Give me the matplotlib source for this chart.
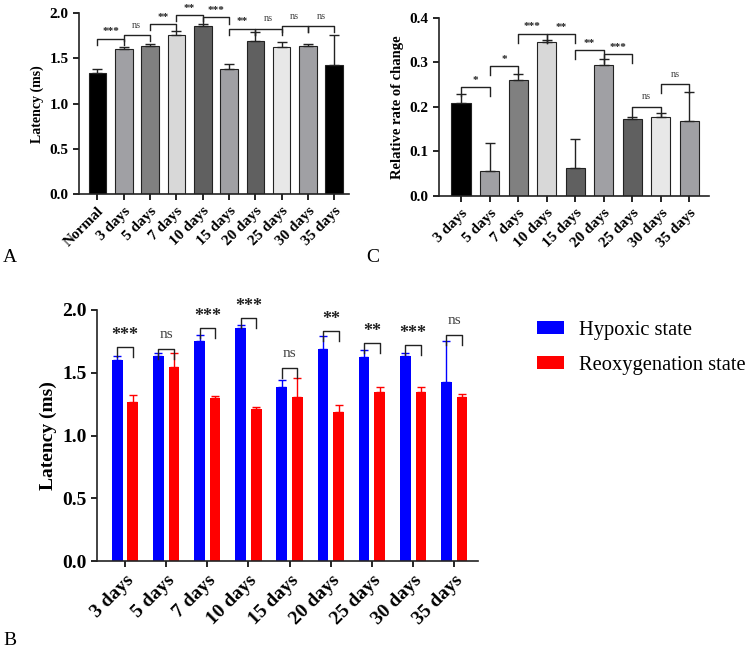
import matplotlib
matplotlib.use("Agg")
import matplotlib.pyplot as plt
from matplotlib.patches import Patch
import numpy as np

plt.rcParams['font.family'] = ['Liberation Serif', 'DejaVu Serif']

# ---- panel A: latency over time ----
cats_a = ['Normal', '3 days', '5 days', '7 days', '10 days', '15 days',
          '20 days', '25 days', '30 days', '35 days']
lat_mean = [1.34, 1.60, 1.635, 1.755, 1.855, 1.385, 1.69, 1.625, 1.635, 1.425]
lat_err = [0.04, 0.03, 0.02, 0.045, 0.025, 0.055, 0.10, 0.055, 0.02, 0.33]
colors_a = ['#000000', '#a0a0a4', '#808080', '#d8d8d8', '#606060',
            '#a0a0a4', '#606060', '#e8e8e8', '#a0a0a4', '#000000']
sig_a = [(0, 1, 1.72, '***'), (1, 2, 1.76, 'ns'), (2, 3, 1.88, '**'),
         (3, 4, 1.98, '**'), (4, 5, 1.955, '***'), (5, 6, 1.83, '**'),
         (6, 7, 1.83, 'ns'), (7, 8, 1.86, 'ns'), (8, 9, 1.86, 'ns')]

# ---- panel C: relative rate of change ----
cats_c = cats_a[1:]
rate_mean = [0.209, 0.055, 0.26, 0.346, 0.062, 0.293, 0.172, 0.176, 0.168]
rate_err = [0.019, 0.063, 0.013, 0.003, 0.066, 0.013, 0.006, 0.011, 0.066]
colors_c = ['#000000', '#a0a0a4', '#808080', '#d8d8d8', '#606060',
            '#a0a0a4', '#606060', '#e8e8e8', '#a0a0a4']
sig_c = [(0, 1, 0.245, '*'), (1, 2, 0.292, '*'), (2, 3, 0.364, '***'),
         (3, 4, 0.363, '**'), (4, 5, 0.327, '**'), (5, 6, 0.318, '***'),
         (6, 7, 0.20, 'ns'), (7, 8, 0.25, 'ns')]

# ---- panel B: hypoxic vs reoxygenation ----
cats_b = cats_a[1:]
hyp_mean = lat_mean[1:]
hyp_err = lat_err[1:]
reox_mean = [1.264, 1.543, 1.296, 1.211, 1.307, 1.19, 1.344, 1.344, 1.307]
reox_err = [0.056, 0.112, 0.019, 0.016, 0.148, 0.053, 0.042, 0.042, 0.026]
sig_b_y = [1.705, 1.69, 1.857, 1.934, 1.538, 1.833, 1.734, 1.718, 1.80]
sig_b = ['***', 'ns', '***', '***', 'ns', '**', '**', '***', 'ns']


def style_axes(ax, fs):
    for s in ['top', 'right']:
        ax.spines[s].set_visible(False)
    for s in ['left', 'bottom']:
        ax.spines[s].set_linewidth(1.2)
        ax.spines[s].set_color('#222222')
    ax.tick_params(axis='both', width=1.2, length=4, labelsize=fs)
    for lab in ax.get_yticklabels() + ax.get_xticklabels():
        lab.set_fontweight('bold')


def bracket(ax, x1, x2, y, leg, text, off, fs_star, fs_ns):
    ax.plot([x1, x1, x2, x2], [y - leg, y, y, y - leg], color='#222222',
            lw=1.0, clip_on=False)
    if text == 'ns':
        ax.text((x1 + x2) / 2, y + off, text, ha='center', va='bottom',
                fontsize=fs_ns, color='#444444')
    else:
        ax.text((x1 + x2) / 2, y + off * 0.4, text, ha='center', va='bottom',
                fontsize=fs_star, fontweight='bold', color='#222222')


fig = plt.figure(figsize=(7.48, 6.51), dpi=100)

# panel A
axA = fig.add_axes([0.1056, 0.702, 0.361, 0.2776])
xa = np.arange(len(cats_a))
axA.bar(xa, lat_mean, width=0.67, color=colors_a, edgecolor='#222222', linewidth=0.8)
axA.errorbar(xa, lat_mean, yerr=[np.zeros(len(xa)), lat_err], fmt='none',
             ecolor='#222222', elinewidth=1.0, capsize=3.5, capthick=1.0)
axA.set_xlim(-0.7, 9.56)
axA.set_ylim(0, 2.0)
axA.set_yticks([0, 0.5, 1.0, 1.5, 2.0])
axA.set_yticklabels(['0.0', '0.5', '1.0', '1.5', '2.0'])
axA.set_xticks(xa)
axA.set_xticklabels(cats_a, rotation=45, ha='right', rotation_mode='anchor')
axA.set_ylabel('Latency (ms)', fontsize=10, fontweight='bold')
style_axes(axA, 11)
for i, j, y, t in sig_a:
    bracket(axA, i, j, y, 0.07, t, 0.06, 8, 7.5)

# panel C
axC = fig.add_axes([0.587, 0.699, 0.361, 0.274])
xc = np.arange(len(cats_c))
axC.bar(xc, rate_mean, width=0.67, color=colors_c, edgecolor='#222222', linewidth=0.8)
axC.errorbar(xc, rate_mean, yerr=[np.zeros(len(xc)), rate_err], fmt='none',
             ecolor='#222222', elinewidth=1.0, capsize=3.5, capthick=1.0)
axC.set_xlim(-0.77, 8.69)
axC.set_ylim(0, 0.4)
axC.set_yticks([0, 0.1, 0.2, 0.3, 0.4])
axC.set_yticklabels(['0.0', '0.1', '0.2', '0.3', '0.4'])
axC.set_xticks(xc)
axC.set_xticklabels(cats_c, rotation=45, ha='right', rotation_mode='anchor')
axC.set_ylabel('Relative rate of change', fontsize=10.5, fontweight='bold')
style_axes(axC, 11)
for i, j, y, t in sig_c:
    bracket(axC, i, j, y, 0.02, t, 0.012, 8, 7.5)

# panel B
axB = fig.add_axes([0.1297, 0.138, 0.509, 0.386])
xb = np.arange(len(cats_b))
axB.bar(xb - 0.19, hyp_mean, width=0.26, color='#0000ff')
axB.bar(xb + 0.19, reox_mean, width=0.26, color='#ff0000')
axB.errorbar(xb - 0.19, hyp_mean, yerr=[np.zeros(len(xb)), hyp_err], fmt='none',
             ecolor='#0000ff', elinewidth=1.0, capsize=3, capthick=1.0)
axB.errorbar(xb + 0.19, reox_mean, yerr=[np.zeros(len(xb)), reox_err], fmt='none',
             ecolor='#ff0000', elinewidth=1.0, capsize=3, capthick=1.0)
axB.set_xlim(-0.68, 8.57)
axB.set_ylim(0, 2.0)
axB.set_yticks([0, 0.5, 1.0, 1.5, 2.0])
axB.set_yticklabels(['0.0', '0.5', '1.0', '1.5', '2.0'])
axB.set_xticks(xb)
axB.set_xticklabels(cats_b, rotation=45, ha='right', rotation_mode='anchor')
axB.set_ylabel('Latency (ms)', fontsize=14, fontweight='bold')
style_axes(axB, 14)
for k in range(len(xb)):
    bracket(axB, xb[k] - 0.19, xb[k] + 0.19, sig_b_y[k], 0.08, sig_b[k], 0.06, 13, 11)

handles = [Patch(facecolor='#0000ff', label='Hypoxic state'),
           Patch(facecolor='#ff0000', label='Reoxygenation state')]
fig.legend(handles=handles, loc='upper left', bbox_to_anchor=(0.693, 0.535),
           frameon=False, fontsize=14.8, handlelength=1.3, handleheight=0.6,
           handletextpad=0.75, labelspacing=0.75)

# panel letters
fig.text(0.004, 1 - 262 / 651, 'A', fontsize=14)
fig.text(0.49, 1 - 262 / 651, 'C', fontsize=14)
fig.text(0.004, 1 - 645 / 651, 'B', fontsize=14)

fig.savefig('out.png', dpi=100)
